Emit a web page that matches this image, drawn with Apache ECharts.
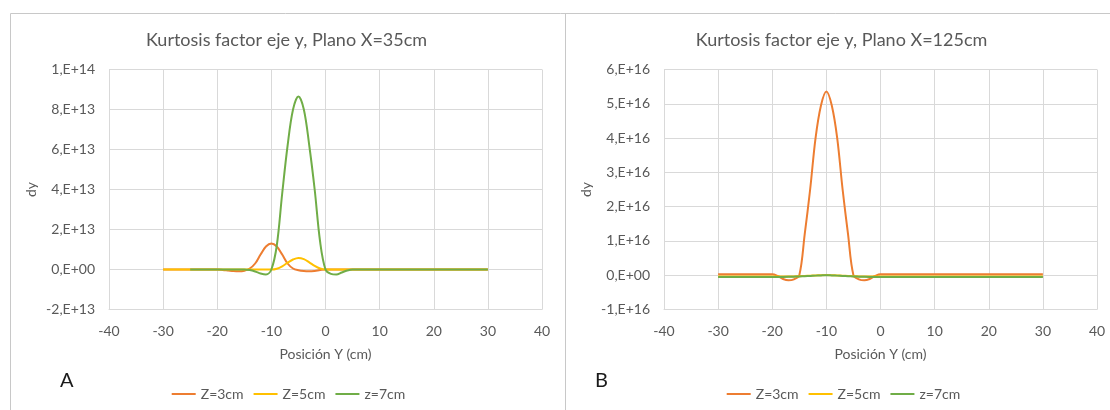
<!DOCTYPE html>
<html>
<head>
<meta charset="utf-8">
<title>Kurtosis factor eje y</title>
<script src="https://cdn.jsdelivr.net/npm/echarts@6/dist/echarts.min.js"></script>
<style>
  html, body { margin: 0; padding: 0; background: #ffffff; }
  #chart { width: 1110px; height: 410px; }
</style>
</head>
<body>
<div id="chart"></div>
<script>
// Position along Y (cm), shared by every series
const positionsCm = [
  -30, -29, -28, -27, -26, -25, -24, -23, -22, -21,
  -20, -19, -18, -17, -16, -15, -14, -13, -12, -11,
  -10, -9, -8, -7, -6, -5, -4, -3, -2, -1,
  0, 1, 2, 3, 4, 5, 6, 7, 8, 9,
  10, 11, 12, 13, 14, 15, 16, 17, 18, 19,
  20, 21, 22, 23, 24, 25, 26, 27, 28, 29,
  30
];

const seriesNames = ['Z=3cm', 'Z=5cm', 'z=7cm'];

// Plano X=35cm, values in units of 1E13
const scaleA = 1e13;
const planoA_z3 = [
  0, 0, 0, 0, 0, 0, 0, 0, 0, 0,
  0, -0.02, -0.05, -0.08, -0.09, -0.06, 0.05, 0.3, 0.75, 1.15,
  1.3, 1.15, 0.75, 0.3, 0.05, -0.04, -0.08, -0.09, -0.07, -0.03,
  0, 0, 0, 0, 0, 0, 0, 0, 0, 0,
  0, 0, 0, 0, 0, 0, 0, 0, 0, 0,
  0, 0, 0, 0, 0, 0, 0, 0, 0, 0,
  0
];
const planoA_z5 = [
  0, 0, 0, 0, 0, 0, 0, 0, 0, 0,
  0, 0, 0, 0, 0, 0, 0, 0, 0, 0,
  0, 0.04, 0.16, 0.34, 0.5, 0.58, 0.52, 0.36, 0.18, 0.05,
  0, 0, 0, 0, 0, 0, 0, 0, 0, 0,
  0, 0, 0, 0, 0, 0, 0, 0, 0, 0,
  0, 0, 0, 0, 0, 0, 0, 0, 0, 0,
  0
];
const planoA_z7 = [
  null, null, null, null, null, 0, 0, 0, 0, 0,
  0, 0, 0, 0, 0, 0, -0.03, -0.1, -0.2, -0.25,
  0, 1.2, 3.8, 6.2, 8.0, 8.65, 8.0, 6.2, 4.0, 1.4,
  0, -0.22, -0.25, -0.15, -0.05, 0, 0, 0, 0, 0,
  0, 0, 0, 0, 0, 0, 0, 0, 0, 0,
  0, 0, 0, 0, 0, 0, 0, 0, 0, 0,
  0
];

// Plano X=125cm, values in units of 1E16
const scaleB = 1e16;
const planoB_z3 = [
  0.03, 0.03, 0.03, 0.03, 0.03, 0.03, 0.03, 0.03, 0.03, 0.03,
  0.03, -0.02, -0.11, -0.15, -0.12, 0, 1.2, 2.5, 4.0, 4.95,
  5.36, 4.95, 4.0, 2.5, 1.2, 0, -0.12, -0.15, -0.11, -0.02,
  0.03, 0.03, 0.03, 0.03, 0.03, 0.03, 0.03, 0.03, 0.03, 0.03,
  0.03, 0.03, 0.03, 0.03, 0.03, 0.03, 0.03, 0.03, 0.03, 0.03,
  0.03, 0.03, 0.03, 0.03, 0.03, 0.03, 0.03, 0.03, 0.03, 0.03,
  0.03
];
const planoB_z5 = [
  -0.04, -0.04, -0.04, -0.04, -0.04, -0.04, -0.04, -0.04, -0.04, -0.04,
  -0.04, -0.04, -0.04, -0.04, -0.035, -0.03, -0.022, -0.015, -0.008, 0,
  0.005, 0, -0.008, -0.015, -0.022, -0.03, -0.035, -0.04, -0.04, -0.04,
  -0.04, -0.04, -0.04, -0.04, -0.04, -0.04, -0.04, -0.04, -0.04, -0.04,
  -0.04, -0.04, -0.04, -0.04, -0.04, -0.04, -0.04, -0.04, -0.04, -0.04,
  -0.04, -0.04, -0.04, -0.04, -0.04, -0.04, -0.04, -0.04, -0.04, -0.04,
  -0.04
];
const planoB_z7 = [
  -0.05, -0.05, -0.05, -0.05, -0.05, -0.05, -0.05, -0.05, -0.05, -0.05,
  -0.05, -0.05, -0.05, -0.048, -0.043, -0.036, -0.028, -0.02, -0.012, -0.005,
  0, -0.005, -0.012, -0.02, -0.028, -0.036, -0.043, -0.048, -0.05, -0.05,
  -0.05, -0.05, -0.05, -0.05, -0.05, -0.05, -0.05, -0.05, -0.05, -0.05,
  -0.05, -0.05, -0.05, -0.05, -0.05, -0.05, -0.05, -0.05, -0.05, -0.05,
  -0.05, -0.05, -0.05, -0.05, -0.05, -0.05, -0.05, -0.05, -0.05, -0.05,
  -0.05
];

const titles = ['Kurtosis factor eje y, Plano X=35cm', 'Kurtosis factor eje y, Plano X=125cm'];
const panelLetters = ['A', 'B'];
const xAxisTitle = 'Posición Y (cm)';
const yAxisTitle = 'dy';

const colors = ['#ED7D31', '#FFC000', '#70AD47'];
const textColor = '#595959';
const gridColor = '#d9d9d9';
const fontFamily = 'Lato, "Open Sans", sans-serif';

// Excel-style scientific tick labels: 8,E+13 / 0,E+00 / -2,E+13
function sciLabel(v) {
  if (Math.abs(v) < 1e-6) return '0,E+00';
  let exp = Math.floor(Math.log10(Math.abs(v)) + 1e-9);
  let m = Math.round(v / Math.pow(10, exp));
  if (Math.abs(m) >= 10) { m = m / 10; exp += 1; }
  const sign = exp >= 0 ? '+' : '-';
  const e = String(Math.abs(exp)).padStart(2, '0');
  return m + ',E' + sign + e;
}

function pairs(values, scale) {
  const out = [];
  for (let i = 0; i < positionsCm.length; i++) {
    if (values[i] === null) continue;
    out.push([positionsCm[i], values[i] * scale]);
  }
  return out;
}

const panels = [
  { left: 109, values: [planoA_z3, planoA_z5, planoA_z7], scale: scaleA, min: -2e13, max: 1e14, interval: 2e13 },
  { left: 664, values: [planoB_z3, planoB_z5, planoB_z7], scale: scaleB, min: -1e16, max: 6e16, interval: 1e16 }
];
const plotWidth = 433;
const plotTop = 69.5;
const plotHeight = 240;

const grid = [], xAxis = [], yAxis = [], series = [], title = [], legend = [];
panels.forEach((p, k) => {
  grid.push({ left: p.left, top: plotTop, width: plotWidth, height: plotHeight, containLabel: false });
  xAxis.push({
    type: 'value', gridIndex: k, min: -40, max: 40, interval: 10,
    name: xAxisTitle, nameLocation: 'middle', nameGap: 38,
    nameTextStyle: { color: textColor, fontSize: 14, fontFamily },
    axisLine: { show: true, onZero: false, lineStyle: { color: gridColor, width: 1 } },
    axisTick: { show: false },
    axisLabel: { color: textColor, fontSize: 14, fontFamily, margin: 15 },
    splitLine: { show: true, lineStyle: { color: gridColor, width: 1 } }
  });
  yAxis.push({
    type: 'value', gridIndex: k, min: p.min, max: p.max, interval: p.interval,
    name: yAxisTitle, nameLocation: 'middle', nameGap: 71, nameRotate: 90,
    nameTextStyle: { color: textColor, fontSize: 14, fontFamily },
    axisLine: { show: true, lineStyle: { color: gridColor, width: 1 } },
    axisTick: { show: false },
    axisLabel: { color: textColor, fontSize: 14, fontFamily, margin: 14, formatter: sciLabel },
    splitLine: { show: true, lineStyle: { color: gridColor, width: 1 } }
  });
  p.values.forEach((vals, s) => {
    series.push({
      type: 'line', name: seriesNames[s], xAxisIndex: k, yAxisIndex: k,
      data: pairs(vals, p.scale), smooth: 0.35, showSymbol: false,
      lineStyle: { color: colors[s], width: 2 }, itemStyle: { color: colors[s] },
      emphasis: { disabled: true }, animation: false
    });
  });
  title.push({
    text: titles[k], left: p.left + plotWidth / 2 - 44, top: 26, textAlign: 'center',
    textStyle: { color: textColor, fontSize: 18, fontWeight: 'normal', fontFamily }
  });
  legend.push({
    data: seriesNames, left: p.left + 62.7, top: 387, itemGap: 10, padding: 0,
    icon: 'rect', itemWidth: 24, itemHeight: 2,
    textStyle: { color: textColor, fontSize: 14, fontFamily },
    selectedMode: false
  });
});

const chart = echarts.init(document.getElementById('chart'), null, { renderer: 'canvas' });
chart.setOption({
  animation: false,
  color: colors,
  title, legend, grid, xAxis, yAxis, series,
  graphic: [
    // chart frames
    { type: 'polyline', silent: true, shape: { points: [[10.5, 420], [10.5, 13.5], [1115, 13.5]] },
      style: { stroke: '#c8c8c8', lineWidth: 1, fill: null } },
    { type: 'line', silent: true, shape: { x1: 565.5, y1: 13.5, x2: 565.5, y2: 420 },
      style: { stroke: '#c8c8c8', lineWidth: 1 } },
    { type: 'text', silent: true, left: 60, top: 371,
      style: { text: panelLetters[0], fill: '#1a1a1a', font: '20px ' + fontFamily } },
    { type: 'text', silent: true, left: 595, top: 371,
      style: { text: panelLetters[1], fill: '#1a1a1a', font: '20px ' + fontFamily } }
  ]
});
</script>
</body>
</html>
